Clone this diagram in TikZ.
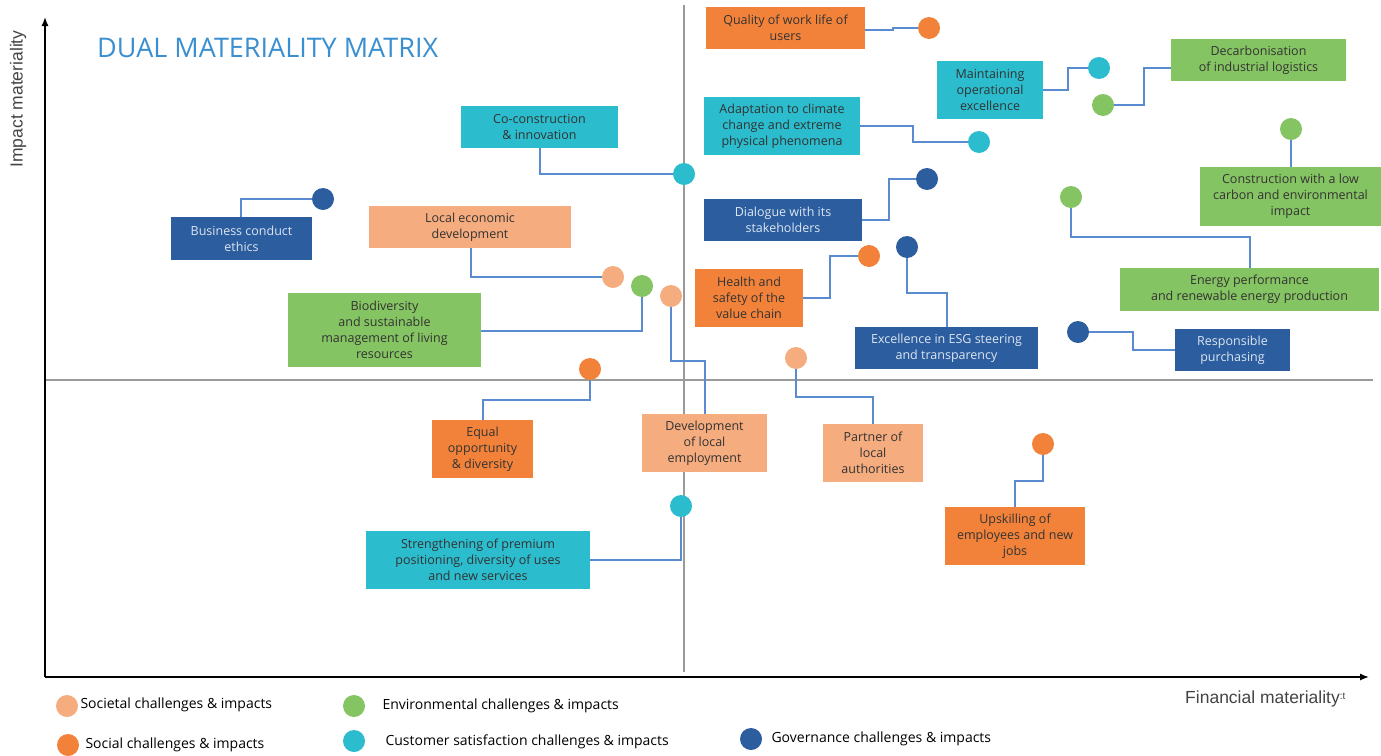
\documentclass[tikz,border=0pt]{standalone}
\usepackage{fontspec}
\setmainfont{Open Sans}
\newfontfamily\boxfont{Open Sans}
\newfontfamily\legfont{Open Sans}
\newfontfamily\titlefont{Open Sans}
\newfontfamily\axisfont{Liberation Sans}
\usetikzlibrary{arrows.meta}
\definecolor{corange}{HTML}{F2823A}
\definecolor{csalmon}{HTML}{F5AC7E}
\definecolor{cgreen}{HTML}{85C462}
\definecolor{ccyan}{HTML}{2BBCCD}
\definecolor{cblue}{HTML}{2C5D9E}
\definecolor{cconn}{HTML}{5A8AD0}
\definecolor{cquad}{HTML}{9A9A9A}
\definecolor{ctext}{HTML}{333333}
\definecolor{cwtext}{HTML}{DCE6F2}
\definecolor{ctitle}{HTML}{3A8FD0}
\definecolor{caxis}{HTML}{444444}
\begin{document}
\begin{tikzpicture}[x=1pt,y=-1pt,
  box/.style={inner sep=0pt, align=center, text=ctext,
    font=\boxfont\fontsize{12.5}{16}\selectfont},
  bw/.style={box, text=cwtext},
  dot/.style={circle, inner sep=0pt, minimum size=22pt},
  conn/.style={draw=cconn, line width=1.3pt},
  quad/.style={draw=cquad, line width=1.4pt},
  axis/.style={draw=black, line width=1.4pt, -{Latex[length=9pt,width=7pt]}},
  legtext/.style={anchor=west, text=black, font=\legfont\fontsize{14}{16}\selectfont}
]
\useasboundingbox (0,0) rectangle (1381,755);

% quadrant lines
\coordinate (qt) at (684,5);
\coordinate (qb) at (684,672);
\coordinate (ql) at (45,380);
\coordinate (qr) at (1373,380);
\draw[quad] (qt) -- (qb);
\draw[quad] (ql) -- (qr);

% axes
\coordinate (o) at (45,677);
\coordinate (yt) at (45,17);
\coordinate (xr) at (1369,677);
\draw[axis] (o) -- (yt);
\draw[axis] (o) -- (xr);

\node[anchor=base west, inner sep=0pt, text=ctitle, font=\titlefont\fontsize{27}{30}\selectfont] (title) at (97,57) {DUAL MATERIALITY MATRIX};
\node[rotate=90, text=caxis, font=\axisfont\fontsize{17.5}{20}\selectfont] (ylab) at (18,99) {Impact materiality};
\node[anchor=base west, inner sep=0pt, text=caxis, font=\axisfont\fontsize{17.5}{20}\selectfont] (xlab) at (1185,703) {Financial materiality\raisebox{4pt}{\fontsize{10}{10}\selectfont :t}};

% boxes
\node[box, fill=corange, minimum width=159pt, minimum height=42pt] (qual) at (785.5,28) {Quality of work life of\\users};
\node[box, fill=ccyan, minimum width=106pt, minimum height=58pt] (maint) at (990,90) {Maintaining\\operational\\excellence};
\node[box, fill=cgreen, minimum width=175pt, minimum height=42pt] (decarb) at (1258.5,60) {Decarbonisation\\of industrial logistics};
\node[box, fill=ccyan, minimum width=156pt, minimum height=58pt] (adapt) at (782,126) {Adaptation to climate\\change and extreme\\physical phenomena};
\node[box, fill=ccyan, minimum width=157pt, minimum height=42pt] (cocon) at (539.5,127) {Co-construction\\\& innovation};
\node[bw, fill=cblue, minimum width=141pt, minimum height=43pt] (bce) at (241.5,238.5) {Business conduct\\ethics};
\node[box, fill=csalmon, minimum width=202pt, minimum height=42pt] (led) at (470,227) {Local economic\\development};
\node[box, fill=cgreen, minimum width=193pt, minimum height=74pt] (bio) at (384.5,330) {Biodiversity\\and sustainable\\management of living\\resources};
\node[box, fill=csalmon, minimum width=125pt, minimum height=58pt] (dle) at (704.5,443) {Development\\of local\\employment};
\node[bw, fill=cblue, minimum width=158pt, minimum height=42pt] (dial) at (783,220) {Dialogue with its\\stakeholders};
\node[box, fill=corange, minimum width=108pt, minimum height=58pt] (hs) at (749,298) {Health and\\safety of the\\value chain};
\node[bw, fill=cblue, minimum width=183pt, minimum height=42pt] (esg) at (946.5,348) {Excellence in ESG steering\\and transparency};
\node[box, fill=cgreen, minimum width=181pt, minimum height=59pt] (constr) at (1290.5,196.5) {Construction with a low\\carbon and environmental\\impact};
\node[box, fill=cgreen, minimum width=259pt, minimum height=43pt] (energy) at (1249.5,289.5) {Energy performance\\and renewable energy production};
\node[bw, fill=cblue, minimum width=115pt, minimum height=42pt] (resp) at (1232.5,350) {Responsible\\purchasing};
\node[box, fill=corange, minimum width=101pt, minimum height=58pt] (equal) at (482.5,449) {Equal\\opportunity\\\& diversity};
\node[box, fill=csalmon, minimum width=100pt, minimum height=58pt] (partner) at (873,453) {Partner of\\local\\authorities};
\node[box, fill=corange, minimum width=140pt, minimum height=58pt] (upsk) at (1015,536) {Upskilling of\\employees and new\\jobs};
\node[box, fill=ccyan, minimum width=224pt, minimum height=58pt] (streng) at (478,560) {Strengthening of premium\\positioning, diversity of uses\\and new services};

% dots
\node[dot, fill=corange] (dqual) at (929,28) {};
\node[dot, fill=ccyan] (dmaint) at (1099,68) {};
\node[dot, fill=cgreen] (ddecarb) at (1103,105) {};
\node[dot, fill=ccyan] (dadapt) at (979,142) {};
\node[dot, fill=ccyan] (dcocon) at (684,174) {};
\node[dot, fill=cblue] (dbce) at (323,199) {};
\node[dot, fill=csalmon] (dled) at (613,277) {};
\node[dot, fill=cgreen] (dbio) at (642,286) {};
\node[dot, fill=csalmon] (ddle) at (671,296) {};
\node[dot, fill=cblue] (ddial) at (927,179) {};
\node[dot, fill=corange] (dhs) at (869,256) {};
\node[dot, fill=cblue] (desg) at (907,247) {};
\node[dot, fill=cgreen] (dconstr) at (1291,129) {};
\node[dot, fill=cgreen] (denergy) at (1071,197) {};
\node[dot, fill=cblue] (dresp) at (1078,332) {};
\node[dot, fill=corange] (dequal) at (590,369) {};
\node[dot, fill=csalmon] (dpartner) at (796,358) {};
\node[dot, fill=corange] (dupsk) at (1043,444) {};
\node[dot, fill=ccyan] (dstreng) at (681,506) {};

% connectors
\draw[conn] ([yshift=-2pt]qual.east) -- (893,30) -- (893,28) -- (dqual);
\draw[conn] (maint.east) -- (1068,90) -- (1068,68) -- (dmaint);
\draw[conn] (ddecarb) -- (1144,105) -- (1144,68) -- ([yshift=-8pt]decarb.west);
\draw[conn] (adapt.east) -- (913,126) -- (913,142) -- (dadapt);
\draw[conn] ([xshift=0.5pt]cocon.south) -- (540,174) -- (dcocon);
\draw[conn] ([xshift=-0.5pt]bce.north) -- (241,199) -- (dbce);
\draw[conn] ([xshift=1pt]led.south) -- (471,277) -- (dled);
\draw[conn] ([yshift=-1pt]bio.east) -- (642,331) -- (dbio);
\draw[conn] (ddle) -- (671,361) -- (705,361) -- ([xshift=0.5pt]dle.north);
\draw[conn] (dial.east) -- (889,220) -- (889,179) -- (ddial);
\draw[conn] (hs.east) -- (830,298) -- (830,256) -- (dhs);
\draw[conn] (desg) -- (907,293) -- (947,293) -- ([xshift=0.5pt]esg.north);
\draw[conn] (dconstr) -- ([xshift=0.5pt]constr.north);
\draw[conn] (denergy) -- (1071,237) -- (1250,237) -- ([xshift=0.5pt]energy.north);
\draw[conn] (dresp) -- (1133,332) -- (1133,350) -- (resp.west);
\draw[conn] (dequal) -- (590,400) -- (483,400) -- ([xshift=0.5pt]equal.north);
\draw[conn] (dpartner) -- (796,397) -- (873,397) -- (partner.north);
\draw[conn] (dupsk) -- (1043,481) -- (1015,481) -- (upsk.north);
\draw[conn] (dstreng) -- (681,560) -- (streng.east);

% legend
\node[dot, fill=csalmon] (l1) at (67,706) {};
\node[legtext] (t1) at (77,705) {Societal challenges \& impacts};
\node[dot, fill=corange] (l2) at (68,745) {};
\node[legtext] (t2) at (82,745) {Social challenges \& impacts};
\node[dot, fill=cgreen] (l3) at (354,706) {};
\node[legtext] (t3) at (379,706) {Environmental challenges \& impacts};
\node[dot, fill=ccyan] (l4) at (354,741) {};
\node[legtext] (t4) at (382,742) {Customer satisfaction challenges \& impacts};
\node[dot, fill=cblue] (l5) at (751,739) {};
\node[legtext] (t5) at (768,739) {Governance challenges \& impacts};
\end{tikzpicture}
\end{document}
